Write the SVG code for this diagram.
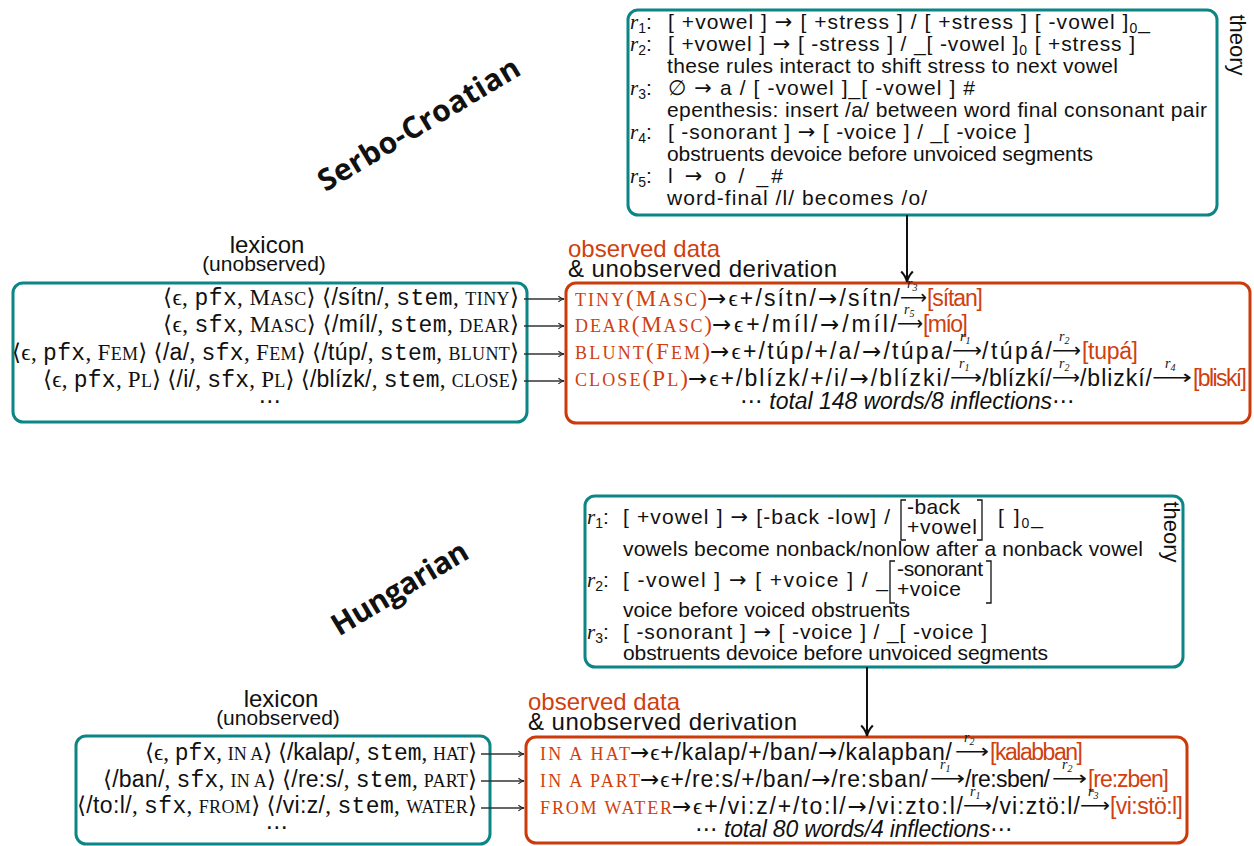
<svg xmlns="http://www.w3.org/2000/svg" width="1254" height="846" viewBox="0 0 1254 846">
<style>
.s{font-family:"Liberation Sans","DejaVu Sans",sans-serif;font-size:20px;fill:#111}
.t{font-size:21px}
.d{font-size:23px}
.h1{font-size:24px}
.h2{font-size:21px}
.th{font-size:22px}
.sc{font-family:"Liberation Serif","DejaVu Serif",serif}
.m{font-family:"Liberation Mono","DejaVu Sans Mono",monospace}
.mi{font-family:"Liberation Serif","DejaVu Serif",serif;font-style:italic}
.red{fill:#d0400f}
.ar{font-family:"DejaVu Sans",sans-serif}
.lab{font-family:"Liberation Serif","DejaVu Serif",serif;font-style:italic;font-size:14px;fill:#111;transform:translateY(-2px)}
.tbox{fill:#fff;stroke:#0b8585;stroke-width:3}
.dbox{fill:#fff;stroke:#cc3a0a;stroke-width:3}
.con{stroke:#333;stroke-width:1.3;fill:none}
.big{stroke:#111;stroke-width:2;fill:none}
.title{font-family:"Open Sans","DejaVu Sans",sans-serif;font-weight:bold;font-size:30px;fill:#111}
.brk{stroke:#111;stroke-width:1.3;fill:none}
</style>
<defs>
<marker id="ah" viewBox="0 0 10 10" refX="9" refY="5" markerWidth="8" markerHeight="8" orient="auto" markerUnits="userSpaceOnUse"><path d="M2,1.5 Q5,4 9,5 Q5,6 2,8.5" fill="none" stroke="#222" stroke-width="1.4"/></marker>
<marker id="ahb" viewBox="0 0 12 12" refX="11" refY="6" markerWidth="14" markerHeight="14" orient="auto" markerUnits="userSpaceOnUse"><path d="M2,1 Q6,5 11,6 Q6,7 2,11" fill="none" stroke="#111" stroke-width="1.8"/></marker>
</defs>

<!-- Titles -->
<text class="title" transform="translate(424,133) rotate(-31)" text-anchor="middle" textLength="230">Serbo-Croatian</text>
<text class="title" transform="translate(405,597) rotate(-31)" text-anchor="middle" textLength="154">Hungarian</text>

<!-- ===== Serbo-Croatian theory ===== -->
<g id="sc-theory">
<rect class="tbox" x="628" y="10" width="589" height="205" rx="10"/>
<text class="s t" x="630" y="29"><tspan class="mi">r</tspan><tspan font-size="14" dy="4">1</tspan><tspan dy="-4">:</tspan></text>
<text class="s t" x="668" y="29" textLength="482">[ +vowel ] <tspan class="ar">→</tspan> [ +stress ] / [ +stress ] [ -vowel ]<tspan font-size="14" dy="4">0</tspan><tspan dy="-4">_</tspan></text>
<text class="s t" x="630" y="51"><tspan class="mi">r</tspan><tspan font-size="14" dy="4">2</tspan><tspan dy="-4">:</tspan></text>
<text class="s t" x="668" y="51" textLength="467">[ +vowel ] <tspan class="ar">→</tspan> [ -stress ] / _[ -vowel ]<tspan font-size="14" dy="4">0</tspan><tspan dy="-4"> [ +stress ]</tspan></text>
<text class="s t" x="667" y="73" textLength="451">these rules interact to shift stress to next vowel</text>
<text class="s t" x="630" y="95"><tspan class="mi">r</tspan><tspan font-size="14" dy="4">3</tspan><tspan dy="-4">:</tspan></text>
<text class="s t" x="668" y="95" textLength="307">∅ <tspan class="ar">→</tspan> a / [ -vowel ]_[ -vowel ] #</text>
<text class="s t" x="667" y="117" textLength="540">epenthesis: insert /a/ between word final consonant pair</text>
<text class="s t" x="630" y="139"><tspan class="mi">r</tspan><tspan font-size="14" dy="4">4</tspan><tspan dy="-4">:</tspan></text>
<text class="s t" x="668" y="139" textLength="362">[ -sonorant ] <tspan class="ar">→</tspan> [ -voice ] / _[ -voice ]</text>
<text class="s t" x="667" y="161" textLength="426">obstruents devoice before unvoiced segments</text>
<text class="s t" x="630" y="183"><tspan class="mi">r</tspan><tspan font-size="14" dy="4">5</tspan><tspan dy="-4">:</tspan></text>
<text class="s t" x="668" y="183" textLength="115">l <tspan class="ar">→</tspan> o / _#</text>
<text class="s t" x="667" y="205" textLength="260">word-final /l/ becomes /o/</text>
<text class="s th" transform="translate(1230,45) rotate(90)" text-anchor="middle">theory</text>
</g>

<!-- ===== Serbo-Croatian lexicon ===== -->
<g id="sc-lexicon">
<text class="s h1" x="267" y="253" text-anchor="middle">lexicon</text>
<text class="s h2" x="264" y="271" text-anchor="middle">(unobserved)</text>
<rect class="tbox" x="13" y="283" width="514" height="139" rx="10"/>
<text class="s d" x="519" y="305" text-anchor="end" textLength="356"><tspan class="sc">⟨ϵ, </tspan><tspan class="m">pfx</tspan><tspan class="sc">, M<tspan font-size="18">ASC</tspan>⟩ ⟨</tspan>/sítn/<tspan class="sc">, </tspan><tspan class="m">stem</tspan><tspan class="sc">, <tspan font-size="18">TINY</tspan>⟩</tspan></text>
<text class="s d" x="519" y="332" text-anchor="end" textLength="356"><tspan class="sc">⟨ϵ, </tspan><tspan class="m">sfx</tspan><tspan class="sc">, M<tspan font-size="18">ASC</tspan>⟩ ⟨</tspan>/míl/<tspan class="sc">, </tspan><tspan class="m">stem</tspan><tspan class="sc">, <tspan font-size="18">DEAR</tspan>⟩</tspan></text>
<text class="s d" x="519" y="360" text-anchor="end" textLength="507"><tspan class="sc">⟨ϵ, </tspan><tspan class="m">pfx</tspan><tspan class="sc">, F<tspan font-size="18">EM</tspan>⟩ ⟨</tspan>/a/<tspan class="sc">, </tspan><tspan class="m">sfx</tspan><tspan class="sc">, F<tspan font-size="18">EM</tspan>⟩ ⟨</tspan>/túp/<tspan class="sc">, </tspan><tspan class="m">stem</tspan><tspan class="sc">, <tspan font-size="18">BLUNT</tspan>⟩</tspan></text>
<text class="s d" x="519" y="387" text-anchor="end" textLength="476"><tspan class="sc">⟨ϵ, </tspan><tspan class="m">pfx</tspan><tspan class="sc">, P<tspan font-size="18">L</tspan>⟩ ⟨</tspan>/i/<tspan class="sc">, </tspan><tspan class="m">sfx</tspan><tspan class="sc">, P<tspan font-size="18">L</tspan>⟩ ⟨</tspan>/blízk/<tspan class="sc">, </tspan><tspan class="m">stem</tspan><tspan class="sc">, <tspan font-size="18">CLOSE</tspan>⟩</tspan></text>
<text class="s d" x="270" y="409" text-anchor="middle">⋯</text>
</g>

<!-- ===== Serbo-Croatian data ===== -->
<g id="sc-data">
<text class="s h1 red" x="568" y="257" textLength="152">observed data</text>
<text class="s h1" x="568" y="277" textLength="269">&amp; unobserved derivation</text>
<rect class="dbox" x="566" y="283" width="684" height="140" rx="10"/>
<!-- row 1 -->
<text class="sc red" x="575" y="306" font-size="23" textLength="132"><tspan font-size="18">TINY</tspan>(M<tspan font-size="18">ASC</tspan>)</text>
<text class="s d" x="707" y="306" textLength="193"><tspan class="ar">→</tspan><tspan class="sc">ϵ</tspan>+/sítn/<tspan class="ar">→</tspan>/sítn/</text>
<text class="s ar" x="900" y="304" textLength="27" lengthAdjust="spacingAndGlyphs">⟶</text>
<text class="lab" x="907" y="290">r<tspan font-size="10" dy="3">3</tspan></text>
<text class="s d red" x="927" y="306" textLength="56">[sítan]</text>
<!-- row 2 -->
<text class="sc red" x="575" y="332" font-size="23" textLength="137"><tspan font-size="18">DEAR</tspan>(M<tspan font-size="18">ASC</tspan>)</text>
<text class="s d" x="712" y="332" textLength="185"><tspan class="ar">→</tspan><tspan class="sc">ϵ</tspan>+/míl/<tspan class="ar">→</tspan>/míl/</text>
<text class="s ar" x="897" y="330" textLength="26" lengthAdjust="spacingAndGlyphs">⟶</text>
<text class="lab" x="904" y="316">r<tspan font-size="10" dy="3">5</tspan></text>
<text class="s d red" x="923" y="332" textLength="45">[mío]</text>
<!-- row 3 -->
<text class="sc red" x="575" y="359" font-size="23" textLength="135"><tspan font-size="18">BLUNT</tspan>(F<tspan font-size="18">EM</tspan>)</text>
<text class="s d" x="710" y="359" textLength="242"><tspan class="ar">→</tspan><tspan class="sc">ϵ</tspan>+/túp/+/a/<tspan class="ar">→</tspan>/túpa/</text>
<text class="s ar" x="952" y="357" textLength="30" lengthAdjust="spacingAndGlyphs">⟶</text>
<text class="lab" x="960" y="343">r<tspan font-size="10" dy="3">1</tspan></text>
<text class="s d" x="982" y="359" textLength="70">/túpá/</text>
<text class="s ar" x="1052" y="357" textLength="29" lengthAdjust="spacingAndGlyphs">⟶</text>
<text class="lab" x="1059" y="343">r<tspan font-size="10" dy="3">2</tspan></text>
<text class="s d red" x="1082" y="359" textLength="56">[tupá]</text>
<!-- row 4 -->
<text class="sc red" x="575" y="386" font-size="23" textLength="113"><tspan font-size="18">CLOSE</tspan>(P<tspan font-size="18">L</tspan>)</text>
<text class="s d" x="688" y="386" textLength="262"><tspan class="ar">→</tspan><tspan class="sc">ϵ</tspan>+/blízk/+/i/<tspan class="ar">→</tspan>/blízki/</text>
<text class="s ar" x="950" y="384" textLength="32" lengthAdjust="spacingAndGlyphs">⟶</text>
<text class="lab" x="959" y="370">r<tspan font-size="10" dy="3">1</tspan></text>
<text class="s d" x="982" y="386" textLength="70">/blízkí/</text>
<text class="s ar" x="1052" y="384" textLength="28" lengthAdjust="spacingAndGlyphs">⟶</text>
<text class="lab" x="1059" y="370">r<tspan font-size="10" dy="3">2</tspan></text>
<text class="s d" x="1080" y="386" textLength="72">/blizkí/</text>
<text class="s ar" x="1152" y="384" textLength="40" lengthAdjust="spacingAndGlyphs">⟶</text>
<text class="lab" x="1165" y="370">r<tspan font-size="10" dy="3">4</tspan></text>
<text class="s d red" x="1193" y="386" textLength="54">[bliskí]</text>
<!-- total -->
<text class="s d" x="740" y="409" textLength="335">⋯<tspan font-style="italic"> total 148 words/8 inflections</tspan>⋯</text>
</g>

<!-- ===== Hungarian theory ===== -->
<g id="hu-theory">
<rect class="tbox" x="585" y="496" width="598" height="171" rx="10"/>
<text class="s t" x="587" y="524"><tspan class="mi">r</tspan><tspan font-size="14" dy="4">1</tspan><tspan dy="-4">:</tspan></text>
<text class="s t" x="623" y="524" textLength="267">[ +vowel ] <tspan class="ar">→</tspan> [-back -low] /</text>
<path class="brk" d="M906,500 H901 V540 H906 M977,500 H982 V540 H977"/>
<text class="s t" x="907" y="514" textLength="53">-back</text>
<text class="s t" x="907" y="534" textLength="70">+vowel</text>
<text class="s t" x="998" y="524" textLength="45">[ ]<tspan font-size="14" dy="4">0</tspan><tspan dy="-4">_</tspan></text>
<text class="s t" x="623" y="556" textLength="520">vowels become nonback/nonlow after a nonback vowel</text>
<text class="s t" x="587" y="587"><tspan class="mi">r</tspan><tspan font-size="14" dy="4">2</tspan><tspan dy="-4">:</tspan></text>
<text class="s t" x="623" y="587" textLength="265">[ -vowel ] <tspan class="ar">→</tspan> [ +voice ] / _</text>
<path class="brk" d="M895,561 H890 V603 H895 M986,561 H991 V603 H986"/>
<text class="s t" x="897" y="576" textLength="86">-sonorant</text>
<text class="s t" x="897" y="596" textLength="64">+voice</text>
<text class="s t" x="623" y="617" textLength="287">voice before voiced obstruents</text>
<text class="s t" x="587" y="639"><tspan class="mi">r</tspan><tspan font-size="14" dy="4">3</tspan><tspan dy="-4">:</tspan></text>
<text class="s t" x="623" y="639" textLength="364">[ -sonorant ] <tspan class="ar">→</tspan> [ -voice ] / _[ -voice ]</text>
<text class="s t" x="623" y="660" textLength="425">obstruents devoice before unvoiced segments</text>
<text class="s th" transform="translate(1164,532) rotate(90)" text-anchor="middle">theory</text>
</g>

<!-- ===== Hungarian lexicon ===== -->
<g id="hu-lexicon">
<text class="s h1" x="281" y="707" text-anchor="middle">lexicon</text>
<text class="s h2" x="278" y="725" text-anchor="middle">(unobserved)</text>
<rect class="tbox" x="76" y="736" width="414" height="108" rx="10"/>
<text class="s d" x="477" y="760" text-anchor="end" textLength="332"><tspan class="sc">⟨ϵ, </tspan><tspan class="m">pfx</tspan><tspan class="sc">, <tspan font-size="18">IN A</tspan>⟩ ⟨</tspan>/kalap/<tspan class="sc">, </tspan><tspan class="m">stem</tspan><tspan class="sc">, <tspan font-size="18">HAT</tspan>⟩</tspan></text>
<text class="s d" x="477" y="787" text-anchor="end" textLength="374"><tspan class="sc">⟨</tspan>/ban/<tspan class="sc">, </tspan><tspan class="m">sfx</tspan><tspan class="sc">, <tspan font-size="18">IN A</tspan>⟩ ⟨</tspan>/re:s/<tspan class="sc">, </tspan><tspan class="m">stem</tspan><tspan class="sc">, <tspan font-size="18">PART</tspan>⟩</tspan></text>
<text class="s d" x="477" y="813" text-anchor="end" textLength="400"><tspan class="sc">⟨</tspan>/to:l/<tspan class="sc">, </tspan><tspan class="m">sfx</tspan><tspan class="sc">, <tspan font-size="18">FROM</tspan>⟩ ⟨</tspan>/vi:z/<tspan class="sc">, </tspan><tspan class="m">stem</tspan><tspan class="sc">, <tspan font-size="18">WATER</tspan>⟩</tspan></text>
<text class="s d" x="277" y="835" text-anchor="middle">⋯</text>
</g>

<!-- ===== Hungarian data ===== -->
<g id="hu-data">
<text class="s h1 red" x="528" y="710" textLength="152">observed data</text>
<text class="s h1" x="528" y="730" textLength="269">&amp; unobserved derivation</text>
<rect class="dbox" x="526" y="737" width="661" height="106" rx="10"/>
<!-- row 1 -->
<text class="sc red" x="540" y="760" font-size="18" textLength="90">IN A HAT</text>
<text class="s d" x="630" y="760" textLength="322"><tspan class="ar">→</tspan><tspan class="sc">ϵ</tspan>+/kalap/+/ban/<tspan class="ar">→</tspan>/kalapban/</text>
<text class="s ar" x="955" y="758" textLength="34" lengthAdjust="spacingAndGlyphs">⟶</text>
<text class="lab" x="964" y="744">r<tspan font-size="10" dy="3">2</tspan></text>
<text class="s d red" x="990" y="760" textLength="93">[kalabban]</text>
<!-- row 2 -->
<text class="sc red" x="540" y="787" font-size="18" textLength="100">IN A PART</text>
<text class="s d" x="640" y="787" textLength="288"><tspan class="ar">→</tspan><tspan class="sc">ϵ</tspan>+/re:s/+/ban/<tspan class="ar">→</tspan>/re:sban/</text>
<text class="s ar" x="930" y="785" textLength="35" lengthAdjust="spacingAndGlyphs">⟶</text>
<text class="lab" x="940" y="771">r<tspan font-size="10" dy="3">1</tspan></text>
<text class="s d" x="965" y="787" textLength="85">/re:sben/</text>
<text class="s ar" x="1052" y="785" textLength="35" lengthAdjust="spacingAndGlyphs">⟶</text>
<text class="lab" x="1062" y="771">r<tspan font-size="10" dy="3">2</tspan></text>
<text class="s d red" x="1088" y="787" textLength="81">[re:zben]</text>
<!-- row 3 -->
<text class="sc red" x="540" y="814" font-size="18" textLength="132">FROM WATER</text>
<text class="s d" x="672" y="814" textLength="291"><tspan class="ar">→</tspan><tspan class="sc">ϵ</tspan>+/vi:z/+/to:l/<tspan class="ar">→</tspan>/vi:zto:l/</text>
<text class="s ar" x="963" y="812" textLength="29" lengthAdjust="spacingAndGlyphs">⟶</text>
<text class="lab" x="970" y="798">r<tspan font-size="10" dy="3">1</tspan></text>
<text class="s d" x="992" y="814" textLength="88">/vi:ztö:l/</text>
<text class="s ar" x="1080" y="812" textLength="30" lengthAdjust="spacingAndGlyphs">⟶</text>
<text class="lab" x="1088" y="798">r<tspan font-size="10" dy="3">3</tspan></text>
<text class="s d red" x="1110" y="814" textLength="73">[vi:stö:l]</text>
<!-- total -->
<text class="s d" x="695" y="837" textLength="318">⋯<tspan font-style="italic"> total 80 words/4 inflections</tspan>⋯</text>
</g>

<!-- ===== Connectors ===== -->
<g id="connectors">
<line class="big" x1="907" y1="215" x2="907" y2="282" marker-end="url(#ahb)"/>
<line class="big" x1="867" y1="667" x2="867" y2="736" marker-end="url(#ahb)"/>
<line class="con" x1="524" y1="299" x2="564" y2="299" marker-end="url(#ah)"/>
<line class="con" x1="524" y1="326" x2="564" y2="326" marker-end="url(#ah)"/>
<line class="con" x1="524" y1="354" x2="564" y2="354" marker-end="url(#ah)"/>
<line class="con" x1="524" y1="381" x2="564" y2="381" marker-end="url(#ah)"/>
<line class="con" x1="481" y1="754" x2="524" y2="754" marker-end="url(#ah)"/>
<line class="con" x1="481" y1="781" x2="524" y2="781" marker-end="url(#ah)"/>
<line class="con" x1="481" y1="808" x2="524" y2="808" marker-end="url(#ah)"/>
</g>
</svg>
